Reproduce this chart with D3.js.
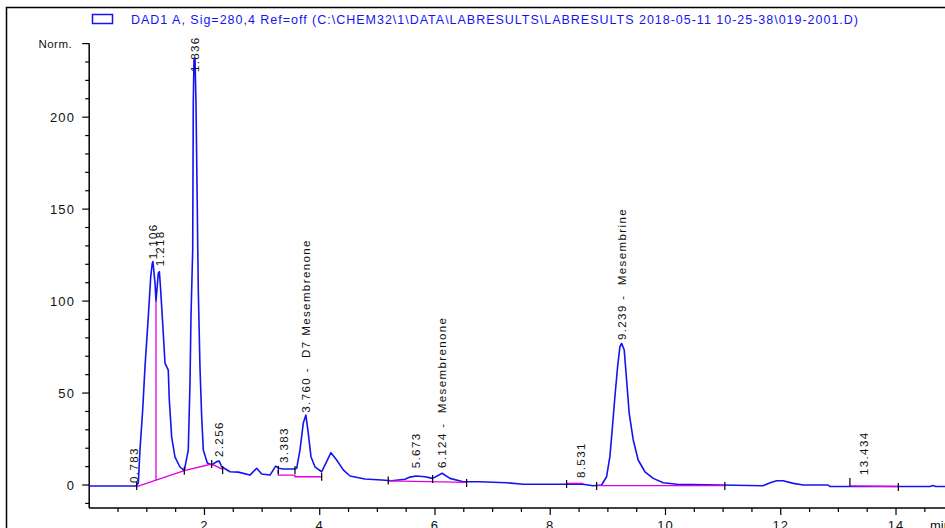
<!DOCTYPE html>
<html><head><meta charset="utf-8">
<script src="https://cdn.jsdelivr.net/npm/d3@7/dist/d3.min.js"></script>
<style>
body{margin:0;background:#fff}
svg{display:block}
text{font-family:Arial,"Liberation Sans",sans-serif}
</style>
</head><body>
<svg id="c" width="945" height="528"></svg>
<script>
const titleText = "DAD1 A, Sig=280,4 Ref=off (C:\\CHEM32\\1\\DATA\\LABRESULTS\\LABRESULTS 2018-05-11 10-25-38\\019-2001.D)";
const yMajorTicks = [0, 50, 100, 150, 200];
const yTopLabel = "Norm.";
const xMajorTicks = [2, 4, 6, 8, 10, 12, 14];
const xUnit = "min";

const signalTime = [0, 0.812, 0.852, 0.881, 0.928, 0.968, 1.025, 1.067, 1.095, 1.106, 1.142, 1.159, 1.199, 1.218, 1.240, 1.275, 1.315, 1.372, 1.390, 1.431, 1.489, 1.575, 1.650, 1.719, 1.749, 1.766, 1.796, 1.806, 1.818, 1.836, 1.853, 1.875, 1.884, 1.893, 1.922, 1.952, 1.980, 2.049, 2.125, 2.212, 2.256, 2.299, 2.443, 2.587, 2.790, 2.906, 2.993, 3.137, 3.236, 3.293, 3.362, 3.553, 3.600, 3.657, 3.715, 3.760, 3.801, 3.848, 3.917, 4.034, 4.120, 4.195, 4.294, 4.408, 4.525, 4.785, 5.075, 5.248, 5.479, 5.566, 5.673, 5.826, 5.959, 6.124, 6.260, 6.490, 6.780, 7.243, 7.531, 8.567, 8.740, 8.891, 8.978, 9.035, 9.075, 9.122, 9.169, 9.209, 9.239, 9.284, 9.325, 9.370, 9.440, 9.526, 9.643, 9.787, 9.960, 10.198, 11.69, 11.84, 11.93, 12.04, 12.22, 12.39, 12.82, 12.85, 14.59, 14.64, 14.69, 14.85];
const signalValue = [-0.5, -0.5, 1.1, 19.0, 40.8, 64.1, 91.3, 113.0, 120.7, 121.5, 109.8, 100.0, 115.2, 116.0, 106.0, 88.0, 66.3, 62.5, 46.2, 26.1, 15.2, 9.8, 7.8, 19.0, 55.4, 91.3, 127.7, 207.6, 231.0, 232.0, 207.6, 152.2, 127.7, 106.0, 64.1, 37.0, 19.0, 12.0, 10.9, 12.7, 13.0, 9.9, 7.2, 7.0, 5.4, 9.1, 6.0, 5.4, 10.3, 9.1, 8.7, 8.7, 9.1, 19.0, 33.7, 38.0, 28.3, 15.4, 9.9, 7.2, 12.7, 17.6, 13.6, 8.2, 4.9, 3.3, 2.7, 2.3, 3.1, 4.3, 4.9, 4.5, 3.6, 6.4, 3.6, 1.8, 1.8, 1.25, 0.4, 0.4, -0.4, 0, 4.5, 15.4, 29.9, 48, 64.3, 75.2, 77, 73.4, 57.1, 39, 24.5, 13.6, 7.2, 3.6, 1.25, 0.4, -0.4, 1.5, 2.3, 2.3, 0.9, 0, 0, -0.8, -0.8, -0.3, -0.8, -0.8];

const baseline1Time = [0.824, 1.650, 2.125, 2.316];
const baseline1Value = [-0.9, 7.8, 11.4, 8.5];
const baseline2Time = [3.281, 3.281, 3.571, 3.571, 4.034];
const baseline2Value = [8.2, 5.4, 5.4, 4.5, 4.5];
const baseline3Time = [5.189, 6.549];
const baseline3Value = [2.3, 1.4];
const baseline4Time = [8.284, 8.572];
const baseline4Value = [0.9, 0.9];
const baseline5Time = [8.805, 11.03];
const baseline5Value = [-0.3, -0.3];
const baseline6Time = [13.20, 14.04];
const baseline6Value = [-0.5, -0.8];
const dropTime = [1.159];
const dropFrom = [2.6];
const dropTo = [100];

const eventTime = [0.824, 1.650, 2.125, 2.316, 3.281, 3.571, 4.034, 5.189, 5.959, 6.549, 8.284, 8.805, 11.03, 13.20, 14.04];
const eventValue = [-0.5, 7.7, 11.4, 8.2, 8.2, 8.2, 4.5, 2.4, 3.3, 1.1, 0.5, -0.5, -0.5, 1.6, -1.1];

const peakTime = [0.783, 1.106, 1.218, 1.836, 2.256, 3.383, 3.760, 5.673, 6.124, 8.531, 9.239, 13.434];
const peakLabel = ["0.783", "1.106", "1.218", "1.836", "2.256", "3.383", "3.760 -  D7 Mesembrenone", "5.673", "6.124 -  Mesembrenone", "8.531", "9.239 -  Mesembrine", "13.434"];
const peakLabelBase = [1.1, 122.8, 119.0, 224.5, 15.2, 12.0, 39.3, 9.1, 9.2, 3.8, 78.8, 5.4];

const svg = d3.select("#c");
const W = 945, H = 528;
const x = d3.scaleLinear().domain([0, 14.85]).range([89.2, 945]);
const y = d3.scaleLinear().domain([-12.5, 240]).range([508, 43.6]);
const BLUE = "#1414f0", MAG = "#e000e0";

// frame
svg.append("path").attr("d", `M6.5,${H+2} V7.5 H${W+2}`).attr("fill","none").attr("stroke","#000").attr("stroke-width",1.5);

// legend
svg.append("rect").attr("x",92.5).attr("y",14.5).attr("width",20).attr("height",9)
  .attr("fill","none").attr("stroke",BLUE).attr("stroke-width",1.5);
svg.append("text").attr("x",131).attr("y",24).attr("fill",BLUE).attr("font-size",12.5)
  .attr("textLength",727).attr("lengthAdjust","spacing").style("white-space","pre").text(titleText);

// y axis
const yMinor = d3.range(-10, 241, 10);
const yAx = svg.append("g").attr("transform","translate(89.2,0)");
yAx.append("line").attr("x1",0).attr("x2",0).attr("y1",y(240)).attr("y2",508).attr("stroke","#000").attr("stroke-width",1.5);
yAx.selectAll("line.mn").data(yMinor).join("line").attr("class","mn")
  .attr("x1", d => (yMajorTicks.includes(d) || d===240) ? -7 : -4).attr("x2",0)
  .attr("y1", d => y(d)).attr("y2", d => y(d)).attr("stroke","#000").attr("stroke-width",1.2);
yAx.selectAll("text.mj").data(yMajorTicks).join("text").attr("class","mj")
  .attr("x",-14).attr("y", d => y(d)).attr("dy","0.36em").attr("text-anchor","end")
  .attr("font-size",13).attr("letter-spacing",1.2).attr("fill","#111").text(d => d);
yAx.append("text").attr("x",-17).attr("y",y(240)).attr("dy","0.36em").attr("text-anchor","end")
  .attr("font-size",11.5).attr("letter-spacing",0.5).attr("fill","#111").text(yTopLabel);

// x axis
const xMinor = d3.range(0.5, 14.86, 0.5);
const xAx = svg.append("g").attr("transform","translate(0,508)");
xAx.append("line").attr("x1",89.2).attr("x2",W).attr("y1",0).attr("y2",0).attr("stroke","#000").attr("stroke-width",1.5);
xAx.selectAll("line.mn").data(xMinor).join("line").attr("class","mn")
  .attr("x1", d => x(d)).attr("x2", d => x(d)).attr("y1",0)
  .attr("y2", d => xMajorTicks.includes(d) ? 7 : 4).attr("stroke","#000").attr("stroke-width",1.2);
xAx.selectAll("text.mj").data(xMajorTicks).join("text").attr("class","mj")
  .attr("x", d => x(d)).attr("y",22).attr("text-anchor","middle")
  .attr("font-size",13).attr("letter-spacing",1).attr("fill","#111").text(d => d);
xAx.append("text").attr("x",930).attr("y",22).attr("font-size",13).attr("fill","#111").text(xUnit);

// signal
const sig = signalTime.map((t,i)=>[t, signalValue[i]]);
const line = d3.line().x(d=>x(d[0])).y(d=>y(d[1]));
svg.append("path").datum(sig).attr("d",line).attr("fill","none").attr("stroke",BLUE).attr("stroke-width",1.6).attr("stroke-linejoin","round");

// baselines
[[baseline1Time,baseline1Value],[baseline2Time,baseline2Value],[baseline3Time,baseline3Value],[baseline4Time,baseline4Value],[baseline5Time,baseline5Value],[baseline6Time,baseline6Value]].forEach(([ts,vs])=>{
  svg.append("path").datum(ts.map((t,i)=>[t,vs[i]])).attr("d",line).attr("fill","none").attr("stroke",MAG).attr("stroke-width",1.3);
});
dropTime.forEach((t,i)=>{
  svg.append("line").attr("x1",x(t)).attr("x2",x(t)).attr("y1",y(dropFrom[i])).attr("y2",y(dropTo[i])).attr("stroke",MAG).attr("stroke-width",1.3);
});

// event ticks
svg.selectAll("line.ev").data(eventTime).join("line").attr("class","ev")
  .attr("x1",d=>x(d)).attr("x2",d=>x(d))
  .attr("y1",(d,i)=>y(eventValue[i])-4).attr("y2",(d,i)=>y(eventValue[i])+4)
  .attr("stroke","#000").attr("stroke-width",1.2);

// peak labels
const pl = svg.append("g");
peakTime.forEach((t,i)=>{
  pl.append("text").attr("transform",`translate(${x(t)},${y(peakLabelBase[i])}) rotate(-90)`)
    .attr("dy","0.36em").attr("font-size",11.5).attr("letter-spacing",1.4).attr("fill","#111")
    .style("white-space","pre").text(peakLabel[i]);
});
</script>
</body></html>
